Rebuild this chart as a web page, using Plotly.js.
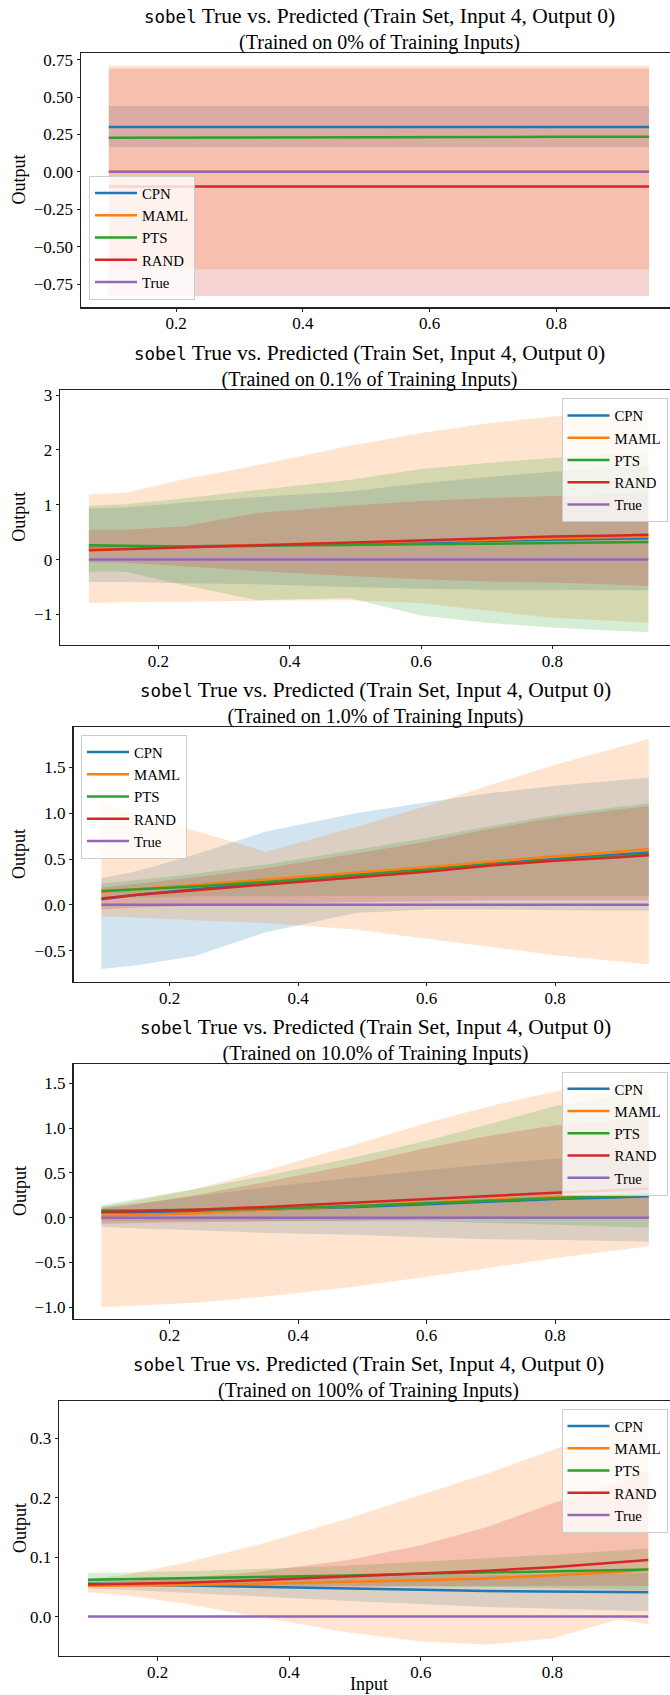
<!DOCTYPE html>
<html>
<head>
<meta charset="utf-8">
<script src="https://cdn.plot.ly/plotly-3.0.1.min.js"></script>
<style>html,body{margin:0;padding:0;background:#fff}</style>
</head>
<body>
<div id="chart" style="width:670px;height:1695px"></div>
<script>
// ---------------- DATA ----------------
const xInput = [0.094, 0.15, 0.24, 0.35, 0.49, 0.60, 0.70, 0.80, 0.90, 0.946];
const trueOutput = [0, 0, 0, 0, 0, 0, 0, 0, 0, 0];
const methodNames = ['CPN', 'MAML', 'PTS', 'RAND'];
const trainedPercents = ['0%', '0.1%', '1.0%', '10.0%', '100%'];
const xTickVals = [0.2, 0.4, 0.6, 0.8];
const yTicks0 = [-0.75, -0.5, -0.25, 0, 0.25, 0.5, 0.75];
const yTicks1 = [-1, 0, 1, 2, 3];
const yTicks2 = [-0.5, 0, 0.5, 1.0, 1.5];
const yTicks3 = [-1.0, -0.5, 0, 0.5, 1.0, 1.5];
const yTicks4 = [0, 0.1, 0.2, 0.3];

// Panel 0: trained on 0%
const cpn0 = [0.30, 0.30, 0.30, 0.30, 0.30, 0.30, 0.30, 0.30, 0.30, 0.30];
const cpn0Lo = [0.166, 0.166, 0.166, 0.166, 0.166, 0.166, 0.166, 0.166, 0.166, 0.166];
const cpn0Hi = [0.441, 0.441, 0.441, 0.441, 0.441, 0.441, 0.441, 0.441, 0.441, 0.441];
const maml0 = [0.0, 0.0, 0.0, 0.0, 0.0, 0.0, 0.0, 0.0, 0.0, 0.0];
const maml0Lo = [-0.65, -0.65, -0.65, -0.65, -0.65, -0.65, -0.65, -0.65, -0.65, -0.65];
const maml0Hi = [0.71, 0.71, 0.71, 0.71, 0.71, 0.71, 0.71, 0.71, 0.71, 0.71];
const pts0 = [0.228, 0.228, 0.229, 0.230, 0.231, 0.232, 0.233, 0.234, 0.235, 0.235];
const pts0Lo = [0.224, 0.224, 0.225, 0.226, 0.227, 0.228, 0.229, 0.230, 0.231, 0.231];
const pts0Hi = [0.232, 0.232, 0.233, 0.234, 0.235, 0.236, 0.237, 0.238, 0.239, 0.239];
const rand0 = [-0.098, -0.098, -0.098, -0.098, -0.098, -0.098, -0.098, -0.098, -0.098, -0.098];
const rand0Lo = [-0.83, -0.83, -0.83, -0.83, -0.83, -0.83, -0.83, -0.83, -0.83, -0.83];
const rand0Hi = [0.69, 0.69, 0.69, 0.69, 0.69, 0.69, 0.69, 0.69, 0.69, 0.69];

// Panel 1: trained on 0.1%
const cpn1 = [0.21, 0.22, 0.23, 0.26, 0.29, 0.32, 0.34, 0.36, 0.38, 0.39];
const cpn1Lo = [-0.41, -0.41, -0.43, -0.45, -0.50, -0.53, -0.55, -0.55, -0.56, -0.56];
const cpn1Hi = [0.93, 0.95, 1.04, 1.14, 1.24, 1.39, 1.50, 1.60, 1.68, 1.71];
const maml1 = [0.20, 0.21, 0.23, 0.27, 0.31, 0.34, 0.37, 0.39, 0.41, 0.42];
const maml1Lo = [-0.79, -0.78, -0.77, -0.75, -0.74, -0.79, -0.93, -1.06, -1.12, -1.15];
const maml1Hi = [1.19, 1.22, 1.47, 1.72, 2.07, 2.31, 2.48, 2.61, 2.70, 2.75];
const pts1 = [0.26, 0.25, 0.24, 0.25, 0.26, 0.28, 0.29, 0.30, 0.31, 0.32];
const pts1Lo = [-0.22, -0.22, -0.47, -0.74, -0.70, -1.02, -1.15, -1.24, -1.30, -1.32];
const pts1Hi = [0.98, 1.01, 1.12, 1.27, 1.45, 1.65, 1.76, 1.85, 1.93, 1.97];
const rand1 = [0.17, 0.19, 0.22, 0.27, 0.32, 0.36, 0.39, 0.42, 0.44, 0.455];
const rand1Lo = [-0.05, -0.06, -0.12, -0.21, -0.30, -0.36, -0.40, -0.42, -0.46, -0.48];
const rand1Hi = [0.545, 0.545, 0.61, 0.85, 0.98, 1.07, 1.12, 1.16, 1.19, 1.20];

// Panel 2: trained on 1.0%
const cpn2 = [0.06, 0.11, 0.17, 0.24, 0.33, 0.39, 0.45, 0.50, 0.55, 0.57];
const cpn2Lo = [-0.70, -0.66, -0.56, -0.30, -0.09, -0.05, -0.05, -0.06, -0.064, -0.066];
const cpn2Hi = [0.29, 0.37, 0.55, 0.80, 1.00, 1.12, 1.22, 1.30, 1.36, 1.39];
const maml2 = [0.14, 0.17, 0.21, 0.27, 0.35, 0.41, 0.47, 0.53, 0.58, 0.61];
const maml2Lo = [-0.128, -0.14, -0.17, -0.20, -0.27, -0.37, -0.46, -0.55, -0.62, -0.65];
const maml2Hi = [1.106, 0.99, 0.81, 0.58, 0.85, 1.08, 1.31, 1.53, 1.72, 1.81];
const pts2 = [0.15, 0.17, 0.20, 0.25, 0.32, 0.38, 0.44, 0.49, 0.53, 0.55];
const pts2Lo = [0.07, 0.08, 0.09, 0.09, 0.10, 0.10, 0.10, 0.10, 0.10, 0.10];
const pts2Hi = [0.23, 0.27, 0.34, 0.44, 0.60, 0.73, 0.86, 0.98, 1.07, 1.11];
const rand2 = [0.07, 0.11, 0.16, 0.22, 0.30, 0.36, 0.43, 0.48, 0.52, 0.54];
const rand2Lo = [-0.05, -0.03, -0.01, 0.01, 0.03, 0.04, 0.05, 0.05, 0.05, 0.05];
const rand2Hi = [0.19, 0.23, 0.30, 0.40, 0.56, 0.69, 0.83, 0.95, 1.04, 1.08];

// Panel 3: trained on 10.0%
const cpn3 = [0.06, 0.06, 0.07, 0.09, 0.12, 0.15, 0.18, 0.21, 0.23, 0.24];
const cpn3Lo = [-0.10, -0.12, -0.14, -0.17, -0.19, -0.22, -0.24, -0.25, -0.26, -0.27];
const cpn3Hi = [0.12, 0.16, 0.24, 0.34, 0.45, 0.53, 0.60, 0.66, 0.675, 0.68];
const maml3 = [0.02, 0.03, 0.05, 0.09, 0.13, 0.17, 0.20, 0.23, 0.25, 0.26];
const maml3Lo = [-1.00, -0.98, -0.95, -0.88, -0.77, -0.66, -0.56, -0.45, -0.36, -0.32];
const maml3Hi = [0.12, 0.19, 0.32, 0.53, 0.82, 1.06, 1.25, 1.41, 1.53, 1.59];
const pts3 = [0.08, 0.08, 0.09, 0.10, 0.13, 0.16, 0.19, 0.22, 0.25, 0.26];
const pts3Lo = [-0.04, -0.04, -0.04, -0.04, -0.04, -0.04, -0.06, -0.08, -0.10, -0.11];
const pts3Hi = [0.14, 0.21, 0.32, 0.47, 0.68, 0.86, 1.05, 1.25, 1.37, 1.42];
const rand3 = [0.064, 0.075, 0.09, 0.12, 0.17, 0.21, 0.25, 0.28, 0.31, 0.326];
const rand3Lo = [-0.07, -0.06, -0.05, -0.04, -0.03, -0.02, -0.01, 0.0, 0.0, 0.0];
const rand3Hi = [0.10, 0.15, 0.25, 0.40, 0.60, 0.78, 0.92, 1.03, 1.09, 1.11];

// Panel 4: trained on 100%
const cpn4 = [0.055, 0.054, 0.052, 0.050, 0.047, 0.045, 0.043, 0.042, 0.041, 0.041];
const cpn4Lo = [0.047, 0.045, 0.040, 0.034, 0.026, 0.021, 0.016, 0.013, 0.010, 0.009];
const cpn4Hi = [0.063, 0.063, 0.064, 0.066, 0.068, 0.069, 0.070, 0.071, 0.072, 0.073];
const maml4 = [0.052, 0.052, 0.053, 0.055, 0.058, 0.061, 0.064, 0.069, 0.075, 0.079];
const maml4Lo = [0.041, 0.036, 0.022, 0.0, -0.027, -0.042, -0.047, -0.037, -0.005, -0.013];
const maml4Hi = [0.063, 0.07, 0.09, 0.12, 0.165, 0.205, 0.24, 0.28, 0.32, 0.34];
const pts4 = [0.062, 0.063, 0.064, 0.066, 0.069, 0.072, 0.074, 0.076, 0.078, 0.079];
const pts4Lo = [0.051, 0.052, 0.052, 0.052, 0.052, 0.051, 0.050, 0.048, 0.046, 0.044];
const pts4Hi = [0.073, 0.074, 0.076, 0.080, 0.086, 0.092, 0.098, 0.104, 0.111, 0.115];
const rand4 = [0.054, 0.055, 0.057, 0.061, 0.067, 0.072, 0.077, 0.083, 0.091, 0.095];
const rand4Lo = [0.050, 0.050, 0.050, 0.050, 0.050, 0.051, 0.051, 0.052, 0.052, 0.052];
const rand4Hi = [0.058, 0.06, 0.065, 0.075, 0.095, 0.12, 0.15, 0.19, 0.225, 0.245];

// ---------------- STYLE / LAYOUT ----------------
const W = 670, H = 1695;
const methodColors = ['#1f77b4', '#ff7f0e', '#2ca02c', '#d62728'];
const methodRGB = ['31,119,180', '255,127,14', '44,160,44', '214,39,40'];
const trueColor = '#9467bd';
const serif = "'Liberation Serif', 'Times New Roman', serif";
const monoName = 'DejaVu Sans Mono';

const frames = [
  {left: 81.2, top: 52.9, bottom: 307.3},
  {left: 60.3, top: 390.1, bottom: 644.6},
  {left: 73.5, top: 727.2, bottom: 981.7},
  {left: 73.5, top: 1064.3, bottom: 1318.8},
  {left: 59.4, top: 1401.3, bottom: 1655.8}
];
const xRange = [0.0505, 0.979];
const yRanges = [[-0.905, 0.795], [-1.55, 3.09], [-0.84, 1.94], [-1.13, 1.715], [-0.066, 0.362]];
const yTickSets = [yTicks0, yTicks1, yTicks2, yTicks3, yTicks4];
const yFormats = ['.2f', 'd', '.1f', '.1f', '.1f'];
const legendPos = [
  {x: 89, y: 300, xanchor: 'left', yanchor: 'bottom'},
  {x: 667.5, y: 398.4, xanchor: 'right', yanchor: 'top'},
  {x: 81, y: 735, xanchor: 'left', yanchor: 'top'},
  {x: 667.5, y: 1071.7, xanchor: 'right', yanchor: 'top'},
  {x: 667.5, y: 1409, xanchor: 'right', yanchor: 'top'}
];

const panelMeans = [
  [cpn0, maml0, pts0, rand0], [cpn1, maml1, pts1, rand1], [cpn2, maml2, pts2, rand2],
  [cpn3, maml3, pts3, rand3], [cpn4, maml4, pts4, rand4]
];
const panelLows = [
  [cpn0Lo, maml0Lo, pts0Lo, rand0Lo], [cpn1Lo, maml1Lo, pts1Lo, rand1Lo], [cpn2Lo, maml2Lo, pts2Lo, rand2Lo],
  [cpn3Lo, maml3Lo, pts3Lo, rand3Lo], [cpn4Lo, maml4Lo, pts4Lo, rand4Lo]
];
const panelHighs = [
  [cpn0Hi, maml0Hi, pts0Hi, rand0Hi], [cpn1Hi, maml1Hi, pts1Hi, rand1Hi], [cpn2Hi, maml2Hi, pts2Hi, rand2Hi],
  [cpn3Hi, maml3Hi, pts3Hi, rand3Hi], [cpn4Hi, maml4Hi, pts4Hi, rand4Hi]
];

const traces = [];
const layout = {
  width: W, height: H,
  margin: {l: 0, r: 0, t: 0, b: 0},
  paper_bgcolor: '#ffffff', plot_bgcolor: '#ffffff',
  font: {family: serif, color: '#000'},
  showlegend: true,
  annotations: []
};

const xRev = xInput.slice().reverse();

for (let p = 0; p < 5; p++) {
  const sfx = p === 0 ? '' : String(p + 1);
  const xa = 'x' + sfx, ya = 'y' + sfx;
  const lg = 'legend' + sfx;
  const f = frames[p];

  for (let m = 0; m < 4; m++) {
    traces.push({
      type: 'scatter', mode: 'none',
      x: xInput.concat(xRev),
      y: panelHighs[p][m].concat(panelLows[p][m].slice().reverse()),
      fill: 'toself', fillcolor: 'rgba(' + methodRGB[m] + ',0.2)',
      hoverinfo: 'skip', showlegend: false, xaxis: xa, yaxis: ya
    });
  }
  for (let m = 0; m < 4; m++) {
    traces.push({
      type: 'scatter', mode: 'lines', name: methodNames[m],
      x: xInput, y: panelMeans[p][m],
      line: {color: methodColors[m], width: 2.5},
      xaxis: xa, yaxis: ya, legend: lg, showlegend: true
    });
  }
  traces.push({
    type: 'scatter', mode: 'lines', name: 'True',
    x: xInput, y: trueOutput,
    line: {color: trueColor, width: 2.5},
    xaxis: xa, yaxis: ya, legend: lg, showlegend: true
  });

  layout['xaxis' + sfx] = {
    domain: [f.left / W, 1], range: xRange, anchor: ya,
    tickvals: xTickVals, tickformat: '.1f',
    showline: true, mirror: true, linecolor: '#222', linewidth: 1.2,
    ticks: 'outside', ticklen: 3.5, tickwidth: 1, tickcolor: '#222',
    ticklabelstandoff: -3,
    showgrid: false, zeroline: false,
    tickfont: {family: serif, size: 17, color: '#000'}
  };
  layout['yaxis' + sfx] = {
    domain: [1 - f.bottom / H, 1 - f.top / H], range: yRanges[p], anchor: xa,
    tickvals: yTickSets[p], tickformat: yFormats[p],
    showline: true, mirror: false, linecolor: '#222', linewidth: 1.2,
    ticks: 'outside', ticklen: 3.5, tickwidth: 1, tickcolor: '#222',
    showgrid: false, zeroline: false,
    tickfont: {family: serif, size: 17, color: '#000'}
  };
  const lp = legendPos[p];
  layout[lg] = {
    x: lp.x / W, y: 1 - lp.y / H, xanchor: lp.xanchor, yanchor: lp.yanchor,
    xref: 'paper', yref: 'paper',
    bgcolor: 'rgba(255,255,255,0.8)', bordercolor: '#cccccc', borderwidth: 1,
    font: {family: serif, size: 14.8, color: '#000'},
    traceorder: 'normal', tracegroupgap: 0, itemwidth: 42
  };

  const centerX = (f.left + 678) / 2;
  layout.annotations.push({
    xref: 'paper', yref: 'paper', x: centerX / W, y: 1 - (f.top - 24) / H,
    xanchor: 'center', yanchor: 'middle', showarrow: false, align: 'center',
    font: {family: serif, size: 20, color: '#000'},
    text: '<span style="font-family:' + monoName + ';font-size:17.5px">sobel</span>' +
          '<span style="font-size:21.5px"> True vs. Predicted (Train Set, Input 4, Output 0)</span>' +
          '<br>(Trained on ' + trainedPercents[p] + ' of Training Inputs)'
  });
  layout.annotations.push({
    xref: 'paper', yref: 'paper', x: 19.5 / W, y: 1 - ((f.top + f.bottom) / 2) / H,
    xanchor: 'center', yanchor: 'middle', showarrow: false, textangle: -90,
    font: {family: serif, size: 18, color: '#000'}, text: 'Output'
  });
}
layout.annotations.push({
  xref: 'paper', yref: 'paper', x: 368.7 / W, y: 1 - 1684 / H,
  xanchor: 'center', yanchor: 'middle', showarrow: false,
  font: {family: serif, size: 18, color: '#000'}, text: 'Input'
});

Plotly.newPlot('chart', traces, layout, {displayModeBar: false, staticPlot: true});
</script>
</body>
</html>
